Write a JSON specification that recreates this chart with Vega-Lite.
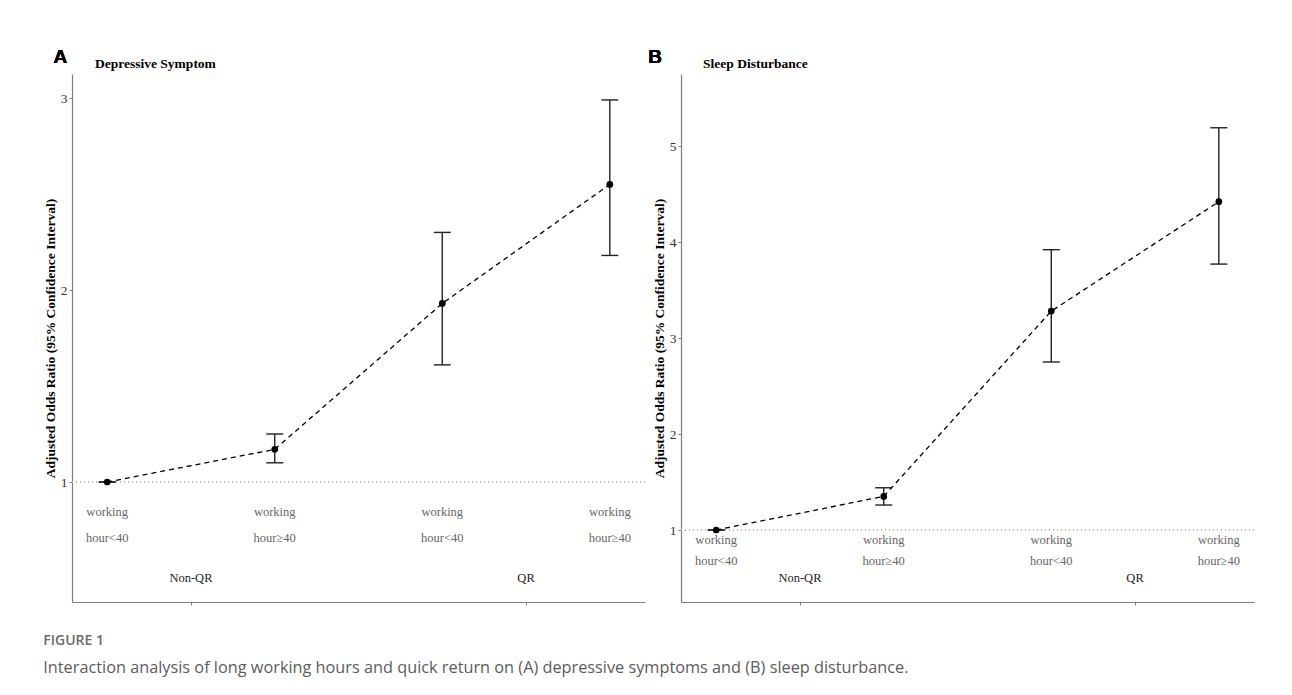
{
  "$schema": "https://vega.github.io/schema/vega-lite/v6.json",
  "background": "white",
  "padding": {"left": 43, "top": 48, "right": 5, "bottom": 5},
  "datasets": {
    "a": [
      {"pos": 1, "or": 1.0, "lo": 1.0, "hi": 1.0, "label": "working\nhour<40"},
      {"pos": 2, "or": 1.17, "lo": 1.10, "hi": 1.25, "label": "working\nhour≥40"},
      {"pos": 3, "or": 1.93, "lo": 1.61, "hi": 2.30, "label": "working\nhour<40"},
      {"pos": 4, "or": 2.55, "lo": 2.18, "hi": 2.99, "label": "working\nhour≥40"}
    ],
    "b": [
      {"pos": 1, "or": 1.0, "lo": 1.0, "hi": 1.0, "label": "working\nhour<40"},
      {"pos": 2, "or": 1.35, "lo": 1.26, "hi": 1.44, "label": "working\nhour≥40"},
      {"pos": 3, "or": 3.28, "lo": 2.75, "hi": 3.92, "label": "working\nhour<40"},
      {"pos": 4, "or": 4.42, "lo": 3.77, "hi": 5.19, "label": "working\nhour≥40"}
    ],
    "groups": [
      {"pos": 1.5, "group": "Non-QR"},
      {"pos": 3.5, "group": "QR"}
    ]
  },
  "title": {
    "text": "FIGURE 1",
    "subtitle": "Interaction analysis of long working hours and quick return on (A) depressive symptoms and (B) sleep disturbance.",
    "orient": "bottom",
    "anchor": "start",
    "frame": "bounds",
    "font": "Open Sans",
    "fontSize": 14,
    "fontWeight": 600,
    "color": "#6b6b6b",
    "subtitleFont": "Open Sans",
    "subtitleFontSize": 16.3,
    "subtitleColor": "#5c5c5c",
    "subtitlePadding": 12,
    "offset": 28
  },
  "bounds": "flush",
  "spacing": 36,
  "hconcat": [
    {
      "width": 573,
      "height": 528,
      "data": {"name": "a"},
      "title": {"text": "Depressive Symptom", "anchor": "start", "frame": "group", "dx": 23, "offset": -22, "font": "Liberation Serif", "fontSize": 13.5, "fontWeight": "bold", "color": "#000000"},
      "layer": [
        {
          "mark": {"type": "rule", "color": "#b3b3b3", "strokeDash": [1, 3], "strokeWidth": 1},
          "encoding": {
            "y": {"datum": 1, "type": "quantitative", "scale": {"domain": [0.375, 3.125], "nice": false, "zero": false},
                  "axis": {"values": [1, 2, 3], "format": "d", "title": "Adjusted Odds Ratio (95% Confidence Interval)"}}
          }
        },
        {
          "mark": {"type": "rule", "color": "#222222", "strokeWidth": 1.4},
          "encoding": {
            "x": {"field": "pos", "type": "quantitative", "scale": {"domain": [0.79, 4.21], "nice": false, "zero": false},
                  "axis": {"values": [1.5, 3.5], "labels": false, "title": null}},
            "y": {"field": "lo", "type": "quantitative", "title": "Adjusted Odds Ratio (95% Confidence Interval)"},
            "y2": {"field": "hi"}
          }
        },
        {
          "mark": {"type": "tick", "orient": "horizontal", "size": 17, "thickness": 1.4, "color": "#222222", "opacity": 1},
          "encoding": {
            "x": {"field": "pos", "type": "quantitative", "title": null},
            "y": {"field": "lo", "type": "quantitative", "title": "Adjusted Odds Ratio (95% Confidence Interval)"}
          }
        },
        {
          "mark": {"type": "tick", "orient": "horizontal", "size": 17, "thickness": 1.4, "color": "#222222", "opacity": 1},
          "encoding": {
            "x": {"field": "pos", "type": "quantitative", "title": null},
            "y": {"field": "hi", "type": "quantitative", "title": "Adjusted Odds Ratio (95% Confidence Interval)"}
          }
        },
        {
          "mark": {"type": "line", "color": "#000000", "strokeWidth": 1.3, "strokeDash": [5, 4]},
          "encoding": {
            "x": {"field": "pos", "type": "quantitative", "title": null},
            "y": {"field": "or", "type": "quantitative", "title": "Adjusted Odds Ratio (95% Confidence Interval)"}
          }
        },
        {
          "mark": {"type": "circle", "color": "#000000", "size": 45, "opacity": 1},
          "encoding": {
            "x": {"field": "pos", "type": "quantitative", "title": null},
            "y": {"field": "or", "type": "quantitative", "title": "Adjusted Odds Ratio (95% Confidence Interval)"}
          }
        },
        {
          "mark": {"type": "text", "font": "Liberation Serif", "fontSize": 12.5, "color": "#666666", "lineBreak": "\n", "lineHeight": 26, "baseline": "middle", "align": "center"},
          "encoding": {
            "x": {"field": "pos", "type": "quantitative", "title": null},
            "y": {"datum": 0.844, "type": "quantitative"},
            "text": {"field": "label"}
          }
        },
        {
          "data": {"name": "groups"},
          "mark": {"type": "text", "font": "Liberation Serif", "fontSize": 12.5, "color": "#222222", "baseline": "middle", "align": "center"},
          "encoding": {
            "x": {"field": "pos", "type": "quantitative", "title": null},
            "y": {"datum": 0.5, "type": "quantitative"},
            "text": {"field": "group"}
          }
        },
        {
          "mark": {"type": "text", "text": "A", "font": "Liberation Sans", "fontSize": 19, "fontWeight": "bold", "color": "#000000", "baseline": "middle", "align": "center"},
          "encoding": {
            "x": {"datum": 0.72, "type": "quantitative"},
            "y": {"datum": 3.2135, "type": "quantitative"}
          }
        }
      ]
    },
    {
      "width": 573,
      "height": 528,
      "data": {"name": "b"},
      "title": {"text": "Sleep Disturbance", "anchor": "start", "frame": "group", "dx": 22, "offset": -22, "font": "Liberation Serif", "fontSize": 13.5, "fontWeight": "bold", "color": "#000000"},
      "layer": [
        {
          "mark": {"type": "rule", "color": "#b3b3b3", "strokeDash": [1, 3], "strokeWidth": 1},
          "encoding": {
            "y": {"datum": 1, "type": "quantitative", "scale": {"domain": [0.25, 5.75], "nice": false, "zero": false},
                  "axis": {"values": [1, 2, 3, 4, 5], "format": "d", "title": "Adjusted Odds Ratio (95% Confidence Interval)"}}
          }
        },
        {
          "mark": {"type": "rule", "color": "#222222", "strokeWidth": 1.4},
          "encoding": {
            "x": {"field": "pos", "type": "quantitative", "scale": {"domain": [0.79, 4.21], "nice": false, "zero": false},
                  "axis": {"values": [1.5, 3.5], "labels": false, "title": null}},
            "y": {"field": "lo", "type": "quantitative", "title": "Adjusted Odds Ratio (95% Confidence Interval)"},
            "y2": {"field": "hi"}
          }
        },
        {
          "mark": {"type": "tick", "orient": "horizontal", "size": 17, "thickness": 1.4, "color": "#222222", "opacity": 1},
          "encoding": {
            "x": {"field": "pos", "type": "quantitative", "title": null},
            "y": {"field": "lo", "type": "quantitative", "title": "Adjusted Odds Ratio (95% Confidence Interval)"}
          }
        },
        {
          "mark": {"type": "tick", "orient": "horizontal", "size": 17, "thickness": 1.4, "color": "#222222", "opacity": 1},
          "encoding": {
            "x": {"field": "pos", "type": "quantitative", "title": null},
            "y": {"field": "hi", "type": "quantitative", "title": "Adjusted Odds Ratio (95% Confidence Interval)"}
          }
        },
        {
          "mark": {"type": "line", "color": "#000000", "strokeWidth": 1.3, "strokeDash": [5, 4]},
          "encoding": {
            "x": {"field": "pos", "type": "quantitative", "title": null},
            "y": {"field": "or", "type": "quantitative", "title": "Adjusted Odds Ratio (95% Confidence Interval)"}
          }
        },
        {
          "mark": {"type": "circle", "color": "#000000", "size": 45, "opacity": 1},
          "encoding": {
            "x": {"field": "pos", "type": "quantitative", "title": null},
            "y": {"field": "or", "type": "quantitative", "title": "Adjusted Odds Ratio (95% Confidence Interval)"}
          }
        },
        {
          "mark": {"type": "text", "font": "Liberation Serif", "fontSize": 12.5, "color": "#666666", "lineBreak": "\n", "lineHeight": 21, "baseline": "middle", "align": "center"},
          "encoding": {
            "x": {"field": "pos", "type": "quantitative", "title": null},
            "y": {"datum": 0.896, "type": "quantitative"},
            "text": {"field": "label"}
          }
        },
        {
          "data": {"name": "groups"},
          "mark": {"type": "text", "font": "Liberation Serif", "fontSize": 12.5, "color": "#222222", "baseline": "middle", "align": "center"},
          "encoding": {
            "x": {"field": "pos", "type": "quantitative", "title": null},
            "y": {"datum": 0.5, "type": "quantitative"},
            "text": {"field": "group"}
          }
        },
        {
          "mark": {"type": "text", "text": "B", "font": "Liberation Sans", "fontSize": 19, "fontWeight": "bold", "color": "#000000", "baseline": "middle", "align": "center"},
          "encoding": {
            "x": {"datum": 0.635, "type": "quantitative"},
            "y": {"datum": 5.927, "type": "quantitative"}
          }
        }
      ]
    }
  ],
  "config": {
    "view": {"stroke": null},
    "axis": {
      "grid": false,
      "domainColor": "#7f7f7f",
      "domainWidth": 1.2,
      "tickColor": "#7f7f7f",
      "tickSize": 3,
      "labelFont": "Liberation Serif",
      "labelFontSize": 13.5,
      "labelColor": "#333333",
      "labelPadding": 2,
      "titleFont": "Liberation Serif",
      "titleFontSize": 13.5,
      "titleFontWeight": "bold",
      "titleColor": "#000000",
      "titlePadding": 3
    }
  }
}
